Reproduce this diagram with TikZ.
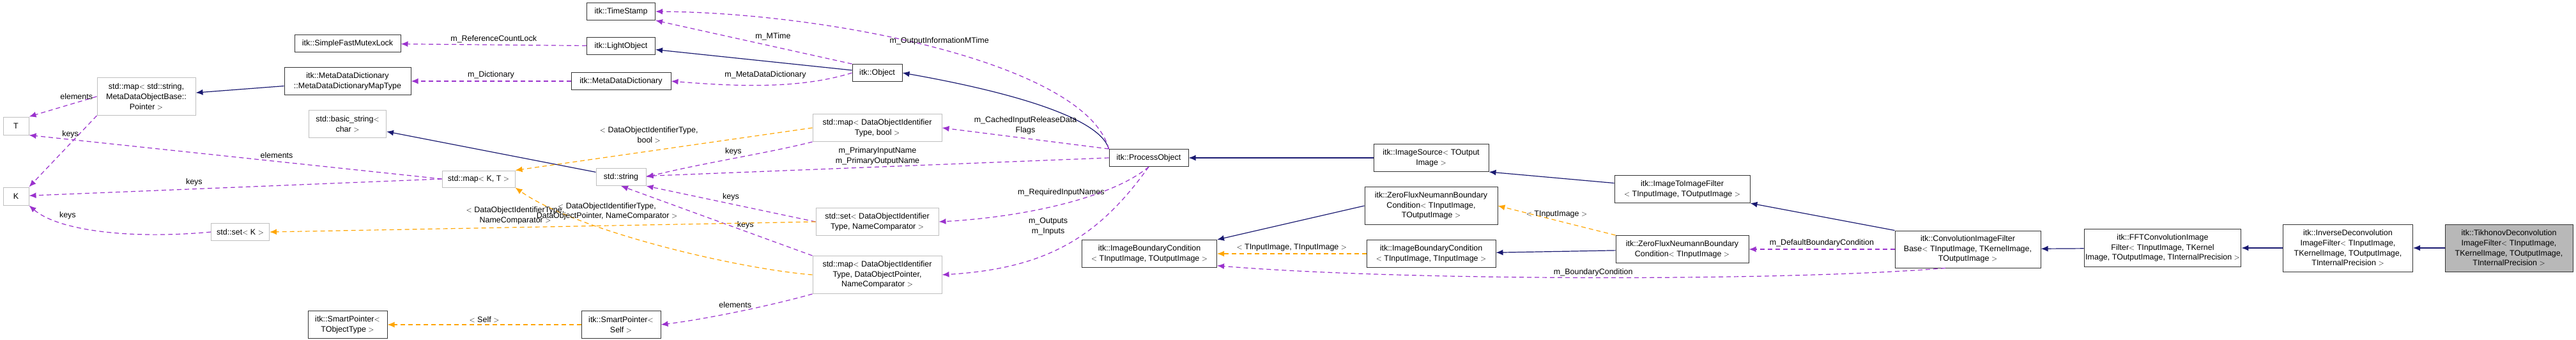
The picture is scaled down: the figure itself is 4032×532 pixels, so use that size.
\documentclass[tikz,border=0pt]{standalone}
\usepackage{fontspec}
\setmainfont{Liberation Sans}
\usetikzlibrary{arrows.meta}
\definecolor{inhblue}{HTML}{191970}
\definecolor{usepurple}{HTML}{9A32CD}
\definecolor{tplorange}{HTML}{FFA500}
\tikzset{
  box/.style={draw, line width=1pt, inner sep=2pt, align=center,
    font=\fontsize{12.5}{15.7}\selectfont},
  cls/.style={box, draw=black!80},
  stdc/.style={box, draw=black!25},
  cur/.style={box, draw=black!80, fill=black!28},
  inh/.style={draw=inhblue, line width=1.2pt, -{Latex[length=11pt,width=9pt]}},
  use/.style={draw=usepurple, line width=1.2pt, dash pattern=on 7pt off 5pt, -{Latex[length=11pt,width=9pt]}},
  tpl/.style={draw=tplorange, line width=1.2pt, dash pattern=on 7pt off 5pt, -{Latex[length=11pt,width=9pt]}},
  lbl/.style={align=center, inner sep=0pt, font=\fontsize{12.5}{15.7}\selectfont}
}
\begin{document}
\begin{tikzpicture}[x=1pt, y=-1pt]
  \useasboundingbox (0,0) rectangle (4032,532);

  % left column
  \node[stdc, minimum width=40, minimum height=28] (T) at (25,197) {T};
  \node[stdc, minimum width=40, minimum height=28] (K) at (25,307) {K};
  \node[stdc, minimum width=154, minimum height=59] (mapstr) at (229,151) {std::map$<$ std::string,\\MetaDataObjectBase::\\Pointer $>$};
  \node[stdc, minimum width=91, minimum height=27] (setK) at (376,363) {std::set$<$ K $>$};

  % second column
  \node[cls, minimum width=166, minimum height=27] (mutex) at (544,68) {itk::SimpleFastMutexLock};
  \node[cls, minimum width=198, minimum height=43] (dictmap) at (544,127) {itk::MetaDataDictionary\\::MetaDataDictionaryMapType};
  \node[stdc, minimum width=121, minimum height=43] (basicstr) at (544,194) {std::basic\_string$<$\\char $>$};
  \node[stdc, minimum width=114, minimum height=26] (mapKT) at (749,280) {std::map$<$ K, T $>$};
  \node[cls, minimum width=124, minimum height=43] (spobj) at (544,508) {itk::SmartPointer$<$\\TObjectType $>$};

  % third column
  \node[cls, minimum width=107, minimum height=27] (stamp) at (972,18) {itk::TimeStamp};
  \node[cls, minimum width=107, minimum height=27] (light) at (972,72) {itk::LightObject};
  \node[cls, minimum width=156, minimum height=27] (dict) at (972,127) {itk::MetaDataDictionary};
  \node[stdc, minimum width=78, minimum height=27] (str) at (972,277) {std::string};
  \node[cls, minimum width=124, minimum height=43] (spself) at (972,508) {itk::SmartPointer$<$\\Self $>$};

  % fourth column
  \node[cls, minimum width=78, minimum height=27] (object) at (1373,114) {itk::Object};
  \node[stdc, minimum width=202, minimum height=43] (mapbool) at (1373,200) {std::map$<$ DataObjectIdentifier\\Type, bool $>$};
  \node[stdc, minimum width=192, minimum height=43] (setnc) at (1373,347) {std::set$<$ DataObjectIdentifier\\Type, NameComparator $>$};
  \node[stdc, minimum width=202, minimum height=59] (mapptr) at (1373,430) {std::map$<$ DataObjectIdentifier\\Type, DataObjectPointer,\\NameComparator $>$};

  % filters
  \node[cls, minimum width=124, minimum height=27] (process) at (1798,247) {itk::ProcessObject};
  \node[cls, minimum width=211, minimum height=43] (ibcto) at (1799,397) {itk::ImageBoundaryCondition\\$<$ TInputImage, TOutputImage $>$};
  \node[cls, minimum width=180, minimum height=43] (source) at (2240,247) {itk::ImageSource$<$ TOutput\\Image $>$};
  \node[cls, minimum width=208, minimum height=59] (zfto) at (2240,322) {itk::ZeroFluxNeumannBoundary\\Condition$<$ TInputImage,\\TOutputImage $>$};
  \node[cls, minimum width=202, minimum height=43] (ibcti) at (2240,397) {itk::ImageBoundaryCondition\\$<$ TInputImage, TInputImage $>$};
  \node[cls, minimum width=212, minimum height=43] (i2i) at (2633,296) {itk::ImageToImageFilter\\$<$ TInputImage, TOutputImage $>$};
  \node[cls, minimum width=208, minimum height=43] (zfti) at (2633,390) {itk::ZeroFluxNeumannBoundary\\Condition$<$ TInputImage $>$};
  \node[cls, minimum width=228, minimum height=58] (convbase) at (3080,390) {itk::ConvolutionImageFilter\\Base$<$ TInputImage, TKernelImage,\\TOutputImage $>$};
  \node[cls, minimum width=232, minimum height=59] (fft) at (3385,388) {itk::FFTConvolutionImage\\Filter$<$ TInputImage, TKernel\\Image, TOutputImage, TInternalPrecision $>$};
  \node[cls, minimum width=203, minimum height=74] (inverse) at (3675,388) {itk::InverseDeconvolution\\ImageFilter$<$ TInputImage,\\TKernelImage, TOutputImage,\\TInternalPrecision $>$};
  \node[cur, minimum width=200, minimum height=74] (tikhonov) at (3927,388) {itk::TikhonovDeconvolution\\ImageFilter$<$ TInputImage,\\TKernelImage, TOutputImage,\\TInternalPrecision $>$};

  % inheritance
  \draw[inh] (dictmap) -- (mapstr);
  \draw[inh] (object) -- (light);
  \draw[inh] (process.north west) .. controls (1720,180) and (1560,140) .. (object.east);
  \draw[inh] (str) -- (basicstr);
  \draw[inh] (source) -- (process);
  \draw[inh] (i2i) -- (source.south east);
  \draw[inh] (convbase.north west) -- (i2i.south east);
  \draw[inh] (zfto.west) -- (ibcto.north east);
  \draw[inh] (zfti) -- (ibcti);
  \draw[inh] (fft) -- (convbase);
  \draw[inh] (inverse) -- (fft);
  \draw[inh] (tikhonov) -- (inverse);

  % usage
  \draw[use] (light) -- (mutex) node[lbl, pos=0.5, above=3pt] {m\_ReferenceCountLock};
  \draw[use] (dict) -- (dictmap) node[lbl, pos=0.5, above=3pt] {m\_Dictionary};
  \draw[use] (object.north west) -- (stamp.south east) node[lbl, pos=0.5, above right=2pt] {m\_MTime};
  \draw[use] (object.west) .. controls (1250,140) and (1150,135) .. (dict.east) node[lbl, pos=0.5, above=10pt] {m\_MetaDataDictionary};
  \draw[use] (process.north west) .. controls (1700,100) and (1300,20) .. (stamp.east) node[lbl, pos=0.5, above=6pt] {m\_OutputInformationMTime};
  \draw[use] (mapstr.west) -- (T.north east) node[lbl, pos=0.3, above=4pt] {elements};
  \draw[use] (mapstr.south west) -- (K.north east);
  \draw[use] (mapKT.west) -- (T.south east) node[lbl, pos=0.4, above=4pt] {elements} node[lbl, pos=0.9, above=2pt] {keys};
  \draw[use] (mapKT.west) -- (K) node[lbl, pos=0.6, above=4pt] {keys};
  \draw[use] (setK.west) .. controls (200,375) and (90,360) .. (K.south east) node[lbl, pos=0.75, above right=2pt] {keys};
  \draw[use] (mapbool.south west) .. controls (1200,240) and (1100,255) .. (str.east) node[lbl, pos=0.5, above=4pt] {keys};
  \draw[use] (process.west) -- (str) node[lbl, pos=0.5, above=3pt] {m\_PrimaryInputName\\m\_PrimaryOutputName};
  \draw[use] (setnc.west) -- (str.south east) node[lbl, pos=0.5, above=4pt] {keys};
  \draw[use] (mapptr.north west) -- (str.south) node[lbl, pos=0.35, above=3pt] {keys};
  \draw[use] (mapptr.south west) .. controls (1200,480) and (1100,500) .. (spself.east) node[lbl, pos=0.5, above=6pt] {elements};
  \draw[use] (process.north west) -- (mapbool.east) node[lbl, pos=0.5, above=6pt] {m\_CachedInputReleaseData\\Flags};
  \draw[use] (process.south) .. controls (1740,310) and (1600,340) .. (setnc.east) node[lbl, pos=0.5, above=12pt] {m\_RequiredInputNames};
  \draw[use] (process.south) .. controls (1720,370) and (1640,420) .. (mapptr.east) node[lbl, pos=0.35, left=40pt] {m\_Outputs\\m\_Inputs};
  \draw[use] (convbase.west |- zfti) -- (zfti) node[lbl, pos=0.5, above=3pt] {m\_DefaultBoundaryCondition};
  \draw[use] (convbase.220) .. controls (2800,440) and (2200,440) .. (ibcto.-10) node[lbl, pos=0.5, above=2pt] {m\_BoundaryCondition};

  % templates
  \draw[tpl] (mapbool.west) -- (mapKT.north east) node[lbl, pos=0.55, above=12pt] {$<$ DataObjectIdentifierType,\\bool $>$};
  \draw[tpl] (mapptr.west) .. controls (1150,420) and (900,360) .. (mapKT.south east) node[lbl, pos=0.65, above=14pt] {$<$ DataObjectIdentifierType,\\DataObjectPointer, NameComparator $>$};
  \draw[tpl] (setnc.west) -- (setK.east) node[lbl, pos=0.55, above=4pt] {$<$ DataObjectIdentifierType,\\NameComparator $>$};
  \draw[tpl] (spself) -- (spobj) node[lbl, pos=0.5, above=3pt] {$<$ Self $>$};
  \draw[tpl] (ibcti) -- (ibcto) node[lbl, pos=0.5, above=3pt] {$<$ TInputImage, TInputImage $>$};
  \draw[tpl] (zfti.north west) -- (zfto.east) node[lbl, pos=0.5, above=3pt] {$<$ TInputImage $>$};
\end{tikzpicture}
\end{document}
